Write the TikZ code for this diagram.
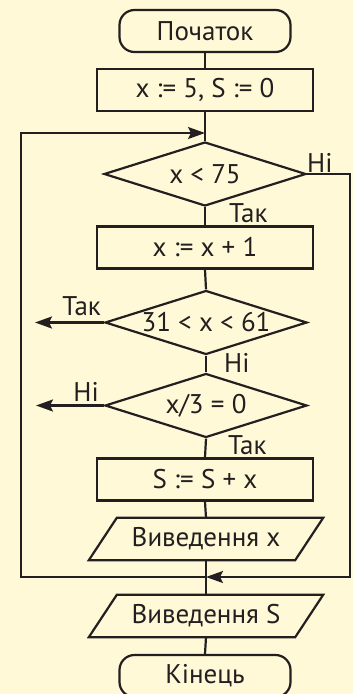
\documentclass[tikz,border=0pt]{standalone}
\usepackage{fontspec}
\setmainfont{PT Sans}
\usetikzlibrary{shapes.geometric,arrows.meta}
\definecolor{bg}{RGB}{255,249,216}
\definecolor{ink}{RGB}{35,31,32}
\tikzset{
  txt/.style={text=ink, font=\fontsize{27}{30}\selectfont},
  base/.style={draw=ink, line width=2.2pt, txt, inner sep=0pt},
  term/.style={base, rectangle, rounded corners=15pt, minimum width=171pt, minimum height=42pt},
  proc/.style={base, rectangle, minimum width=216pt, minimum height=42pt},
  dec/.style={base, diamond, aspect=3.15, minimum width=202pt, minimum height=64pt},
  iotext/.style={inner sep=0pt, txt, minimum width=206pt, minimum height=42pt},
  link/.style={draw=ink, line width=2.2pt},
  arr/.style={link, -{Stealth[length=17pt,width=12pt,inset=3pt]}},
  lbl/.style={txt, inner sep=0pt}
}
\begin{document}
\begin{tikzpicture}[x=1pt,y=-1pt]
\fill[bg] (0,0) rectangle (353,694);
\useasboundingbox (0,0) rectangle (353,694);
\node[term] (start) at (205,31) {Початок};
\node[proc] (init) at (205,90) {x := 5, S := 0};
\node[dec] (d1) at (205,174) {x < 75};
\node[proc] (inc) at (205,247.5) {x := x + 1};
\node[dec] (d2) at (206,322.5) {31 < x < 61};
\node[dec] (d3) at (206,405.5) {x/3 = 0};
\node[proc] (sum) at (205,479.5) {S := S + x};
\node[iotext] (io1) at (206,539) {Виведення x};
\node[iotext] (io2) at (206,616) {Виведення S};
\node[term] (end) at (205,676) {Кінець};
\foreach \n in {io1,io2}{
  \draw[link, line join=miter] ([xshift=14pt]\n.north west) -- ([xshift=14pt]\n.north east)
    -- ([xshift=-14pt]\n.south east) -- ([xshift=-14pt]\n.south west) -- cycle;
}
\coordinate (jtop) at (205,133);
\coordinate (ltop) at (21,133);
\coordinate (lbot) at (21,577);
\coordinate (jbot) at (205,577);
\coordinate (jbotr) at (206,577);
\coordinate (rtop) at (350,174);
\coordinate (rbot) at (350,577);
\coordinate (takend) at (35,322.5);
\coordinate (niend) at (36,405.5);
\draw[link] (start.south) -- (init.north);
\draw[link] (init.south) -- (d1.north);
\draw[link] (d1.south) -- (inc.north);
\draw[link] (inc.south) -- (d2.north);
\draw[link] (d2.south) -- (d3.north);
\draw[link] (d3.south) -- (sum.north);
\draw[link] (sum.south) -- (io1.north);
\draw[link] (io1.south) -- (io2.north);
\draw[link] (io2.south) -- (end.north);
\draw[arr, line join=miter] (jbot) -- (lbot) -- (ltop) -- (jtop);
\draw[arr, line join=miter] (d1.east) -- (rtop) -- (rbot) -- (jbotr);
\draw[arr] (d2.west) -- (takend);
\draw[arr] (d3.west) -- (niend);
\node[lbl, anchor=base west] (l1) at (307,172) {Ні};
\node[lbl, anchor=base west] (l2) at (229,222) {Так};
\node[lbl, anchor=base east] (l3) at (101,315) {Так};
\node[lbl, anchor=base west] (l4) at (224,372) {Ні};
\node[lbl, anchor=base east] (l5) at (99,401) {Ні};
\node[lbl, anchor=base west] (l6) at (228,454) {Так};
\end{tikzpicture}
\end{document}
